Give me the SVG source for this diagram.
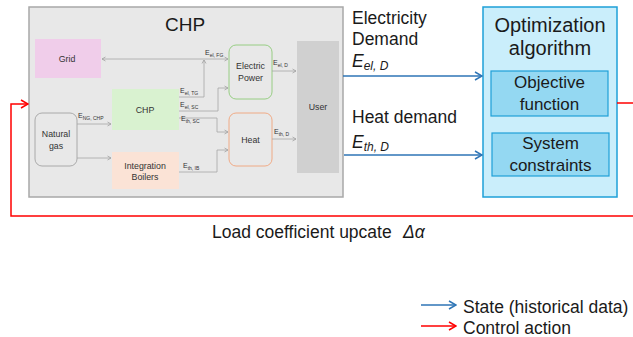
<svg xmlns="http://www.w3.org/2000/svg" width="633" height="337" viewBox="0 0 633 337">
<style>
text{font-family:"Liberation Sans",Arial,sans-serif;fill:#1a1a1a}
.sm{font-size:8.8px;fill:#333;text-anchor:middle}
.lbl{font-size:7px;fill:#333}
.sub{font-size:5px}
.big{font-size:17.5px}
.opt{font-size:20px;text-anchor:middle}
.box{font-size:17px;text-anchor:middle}
.gl{fill:none;stroke:#a6a6a6;stroke-width:0.8}
.bl{fill:none;stroke:#2e75b6;stroke-width:1.5}
.rd{fill:none;stroke:#ff0000;stroke-width:1.5}
</style>
<defs>
<marker id="ag" markerWidth="6" markerHeight="6" refX="5" refY="3" orient="auto-start-reverse" markerUnits="userSpaceOnUse"><path d="M1.5,1 L5,3 L1.5,5" fill="none" stroke="#a0a0a0" stroke-width="0.8"/></marker>
<marker id="ab" markerWidth="10" markerHeight="10" refX="9" refY="5" orient="auto" markerUnits="userSpaceOnUse"><path d="M2,1 L9,5 L2,9" fill="none" stroke="#2e75b6" stroke-width="1.5"/></marker>
<marker id="ar" markerWidth="10" markerHeight="10" refX="9" refY="5" orient="auto" markerUnits="userSpaceOnUse"><path d="M2,1 L9,5 L2,9" fill="none" stroke="#ff0000" stroke-width="1.5"/></marker>
</defs>
<rect width="633" height="337" fill="#ffffff"/>
<g id="chp-system">
<rect x="29" y="7" width="314" height="190" fill="#e8e8e8" stroke="#a8a8a8" stroke-width="1.5"/>
<text x="185" y="31" font-size="19" text-anchor="middle">CHP</text>
</g>
<g id="grid">
<rect x="35" y="39" width="66" height="39" fill="#f0cdea"/>
<text x="67" y="62" class="sm">Grid</text>
</g>
<g id="chp">
<rect x="112" y="89" width="67" height="41" fill="#d9f2d0"/>
<text x="145" y="113" class="sm">CHP</text>
</g>
<g id="natural-gas">
<rect x="35" y="113" width="42" height="53" rx="7" fill="none" stroke="#9a9a9a" stroke-width="0.8"/>
<text x="56" y="137" class="sm">Natural</text>
<text x="56" y="149" class="sm">gas</text>
</g>
<g id="integration-boilers">
<rect x="112" y="152" width="67" height="37" fill="#fbe3d6"/>
<text x="145" y="169" class="sm">Integration</text>
<text x="145" y="180" class="sm">Boilers</text>
</g>
<g id="electric-power">
<rect x="229" y="45" width="43" height="54" rx="7" fill="none" stroke="#8fcb79" stroke-width="0.9"/>
<text x="250.5" y="69" class="sm">Electric</text>
<text x="250.5" y="81" class="sm">Power</text>
</g>
<g id="heat">
<rect x="229" y="113" width="43" height="53" rx="7" fill="none" stroke="#f0a47c" stroke-width="0.9"/>
<text x="250.5" y="143" class="sm">Heat</text>
</g>
<g id="user">
<rect x="297" y="41" width="42" height="132" fill="#d0d0d0"/>
<text x="318" y="110" class="sm" font-size="7.5">User</text>
</g>
<g id="optimization">
<rect x="483" y="7" width="134" height="190" fill="#caeefb" stroke="#1ea0d8" stroke-width="1.5"/>
<text x="550" y="32" class="opt">Optimization</text>
<text x="550" y="55" class="opt">algorithm</text>
</g>
<g id="objective-function">
<rect x="491" y="71" width="117" height="45" fill="#94d8f2" stroke="#1ea0d8" stroke-width="1.2"/>
<text x="549.5" y="88" class="box">Objective</text>
<text x="549.5" y="110" class="box">function</text>
</g>
<g id="system-constraints">
<rect x="492" y="133" width="117" height="43" fill="#94d8f2" stroke="#1ea0d8" stroke-width="1.2"/>
<text x="550.5" y="149" class="box">System</text>
<text x="550.5" y="171" class="box">constraints</text>
</g>
<g id="connectors">
<path class="gl" d="M228,59 H102" marker-start="url(#ag)" marker-end="url(#ag)"/>
<path class="gl" d="M179,97 H204 V60" marker-end="url(#ag)"/>
<path class="gl" d="M179,111 H218 V88 H228" marker-end="url(#ag)"/>
<path class="gl" d="M179,118 H217 V132 H228" marker-end="url(#ag)"/>
<path class="gl" d="M179,172 H217 V150 H228" marker-end="url(#ag)"/>
<path class="gl" d="M77,124 H111" marker-end="url(#ag)"/>
<path class="gl" d="M77,158 H111" marker-end="url(#ag)"/>
<path class="gl" d="M272,71 H296" marker-end="url(#ag)"/>
<path class="gl" d="M272,139 H296" marker-end="url(#ag)"/>
<path class="bl" d="M343,76 H482" marker-end="url(#ab)"/>
<path class="bl" d="M344,155 H482" marker-end="url(#ab)"/>
<path class="rd" d="M617,103 H640"/>
<path class="rd" d="M640,216 H11 V104 H28" marker-end="url(#ar)"/>
<path class="bl" d="M421,305 H456" marker-end="url(#ab)"/>
<path class="rd" d="M421,326 H456" marker-end="url(#ar)"/>
</g>
<g id="labels">
<text x="205" y="55" class="lbl">E<tspan class="sub" dy="1.5">el, FG</tspan></text>
<text x="180" y="93" class="lbl">E<tspan class="sub" dy="1.5">el, TG</tspan></text>
<text x="180" y="107" class="lbl">E<tspan class="sub" dy="1.5">el, SC</tspan></text>
<text x="181" y="121" class="lbl">E<tspan class="sub" dy="1.5">th, SC</tspan></text>
<text x="183" y="168" class="lbl">E<tspan class="sub" dy="1.5">th, IB</tspan></text>
<text x="78" y="118" class="lbl">E<tspan class="sub" dy="1.5">NG, CHP</tspan></text>
<text x="273" y="65" class="lbl">E<tspan class="sub" dy="1.5">el, D</tspan></text>
<text x="274" y="134" class="lbl">E<tspan class="sub" dy="1.5">th, D</tspan></text>
<text x="352" y="24" class="big">Electricity</text>
<text x="352" y="45" class="big">Demand</text>
<text x="352" y="67" class="big" font-style="italic">E<tspan font-size="12" dy="3">el, D</tspan></text>
<text x="352" y="123" class="big">Heat demand</text>
<text x="352" y="148" class="big" font-style="italic">E<tspan font-size="12" dy="3">th, D</tspan></text>
<text x="212" y="238" class="big">Load coefficient upcate <tspan x="403" font-style="italic">Δα</tspan></text>
<text x="463" y="313" class="big">State (historical data)</text>
<text x="463" y="334" class="big">Control action</text>
</g>
</svg>
